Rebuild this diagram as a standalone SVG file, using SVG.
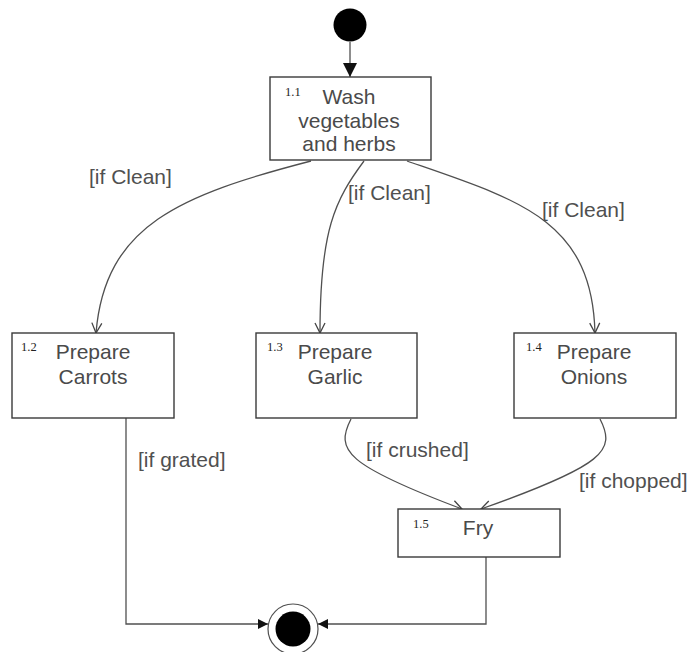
<svg xmlns="http://www.w3.org/2000/svg" width="693" height="652" viewBox="0 0 693 652">
  <style>
    .box { fill: #ffffff; stroke: #3a3a3a; stroke-width: 1.4; }
    .lbl { font-family: "Liberation Sans", Arial, sans-serif; font-size: 21px; fill: #4a4a4a; text-anchor: middle; }
    .num { font-family: "Liberation Serif", "Times New Roman", serif; font-size: 12.5px; fill: #222222; }
    .guard { font-family: "Liberation Sans", Arial, sans-serif; font-size: 21px; fill: #505050; }
    .edge { fill: none; stroke: #505050; stroke-width: 1.3; }
  </style>
  <defs>
    <marker id="open" viewBox="0 0 12 12" refX="11" refY="6" markerWidth="12" markerHeight="12" markerUnits="userSpaceOnUse" orient="auto">
      <path d="M1,1 L11,6 L1,11" fill="none" stroke="#444444" stroke-width="1.3"/>
    </marker>
    <marker id="solidBig" viewBox="0 0 10 10" refX="10" refY="5" markerWidth="14" markerHeight="14" markerUnits="userSpaceOnUse" orient="auto">
      <path d="M0,0 L10,5 L0,10 Z" fill="#111111"/>
    </marker>
    <marker id="solid" viewBox="0 0 10 10" refX="10" refY="5" markerWidth="10" markerHeight="10" markerUnits="userSpaceOnUse" orient="auto">
      <path d="M0,0 L10,5 L0,10 Z" fill="#111111"/>
    </marker>
  </defs>

  <!-- transitions -->
  <g id="connectors">
    <path class="edge" d="M350,42 L350,77" marker-end="url(#solidBig)"/>
    <path class="edge" d="M311,161 C180,195 105,225 96,333" marker-end="url(#open)"/>
    <path class="edge" d="M364,161 C335,200 320,230 320,333" marker-end="url(#open)"/>
    <path class="edge" d="M407,161 C520,200 592,220 595,333" marker-end="url(#open)"/>
    <path class="edge" d="M351,419 C335,450 345,465 462,509" marker-end="url(#open)"/>
    <path class="edge" d="M600,419 C616,450 606,465 481,509" marker-end="url(#open)"/>
    <path class="edge" d="M126,418 L126,624 L268,624" marker-end="url(#solid)"/>
    <path class="edge" d="M486,557 L486,624 L318,624" marker-end="url(#solid)"/>
    <text class="guard" x="89" y="184">[if Clean]</text>
    <text class="guard" x="348" y="200">[if Clean]</text>
    <text class="guard" x="542" y="217">[if Clean]</text>
    <text class="guard" x="138" y="467">[if grated]</text>
    <text class="guard" x="366" y="457">[if crushed]</text>
    <text class="guard" x="579" y="488">[if chopped]</text>
  </g>

  <g id="start">
    <circle cx="350" cy="25" r="16.5" fill="#000000"/>
  </g>

  <g id="wash">
    <rect class="box" x="270" y="77" width="161" height="83"/>
    <text class="num" x="285" y="96">1.1</text>
    <text class="lbl" x="349" y="104">Wash</text>
    <text class="lbl" x="349" y="128">vegetables</text>
    <text class="lbl" x="349" y="151">and herbs</text>
  </g>

  <g id="carrots">
    <rect class="box" x="12" y="333" width="162" height="85"/>
    <text class="num" x="21" y="351">1.2</text>
    <text class="lbl" x="93" y="359">Prepare</text>
    <text class="lbl" x="93" y="384">Carrots</text>
  </g>

  <g id="garlic">
    <rect class="box" x="256" y="333" width="161" height="85"/>
    <text class="num" x="267" y="351">1.3</text>
    <text class="lbl" x="335" y="359">Prepare</text>
    <text class="lbl" x="335" y="384">Garlic</text>
  </g>

  <g id="onions">
    <rect class="box" x="514" y="333" width="162" height="85"/>
    <text class="num" x="526" y="351">1.4</text>
    <text class="lbl" x="594" y="359">Prepare</text>
    <text class="lbl" x="594" y="384">Onions</text>
  </g>

  <g id="fry">
    <rect class="box" x="398" y="509" width="162" height="48"/>
    <text class="num" x="413" y="528">1.5</text>
    <text class="lbl" x="478" y="535">Fry</text>
  </g>

  <g id="end">
    <circle cx="293" cy="629" r="25" fill="#ffffff" stroke="#505050" stroke-width="1.2"/>
    <circle cx="293" cy="629" r="17.5" fill="#000000"/>
  </g>
</svg>
